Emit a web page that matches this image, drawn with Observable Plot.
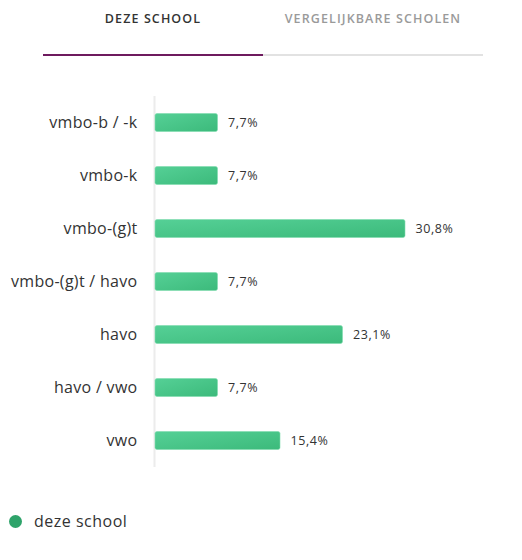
<!DOCTYPE html>
<html>
<head>
<meta charset="utf-8">
<script src="https://cdn.jsdelivr.net/npm/d3@7"></script>
<script src="https://cdn.jsdelivr.net/npm/@observablehq/plot@0.6"></script>
<style>
  body { margin: 0; background: #fff; font-family: "Open Sans", sans-serif; }
  #wrap { position: relative; width: 522px; height: 560px; overflow: hidden; }
  .tab { position: absolute; top: 10px; font-size: 12.5px; font-weight: 600; letter-spacing: 1.1px; }
  .tab1 { left: 43px; width: 220px; text-align: center; color: #333; }
  .tab2 { left: 263px; width: 220px; text-align: center; color: #9a9a9a; }
  .line1 { position: absolute; left: 43px; top: 54px; width: 220px; height: 2px; background: #6e1a5e; }
  .line2 { position: absolute; left: 263px; top: 54px; width: 220px; height: 2px; background: #e2e2e2; }
  #chart { position: absolute; left: 0; top: 80px; }
  .legend { position: absolute; left: 9px; top: 510px; display: flex; align-items: center; font-size: 16px; letter-spacing: 0.5px; color: #333; }
  .dot { width: 13px; height: 13px; border-radius: 50%; background: #2ea36a; margin-right: 12px; }
  #chart svg g[aria-label="y-axis tick label"] text { letter-spacing: 0.3px; }
  #chart svg g[aria-label="text"] text { letter-spacing: 0.6px; }
</style>
</head>
<body>
<div id="wrap">
  <div class="tab tab1">DEZE SCHOOL</div>
  <div class="tab tab2">VERGELIJKBARE SCHOLEN</div>
  <div class="line1"></div>
  <div class="line2"></div>
  <div id="chart"></div>
  <div class="legend"><div class="dot"></div><span>deze school</span></div>
</div>
<script>
const categories = ["vmbo-b / -k", "vmbo-k", "vmbo-(g)t", "vmbo-(g)t / havo", "havo", "havo / vwo", "vwo"];
const values = [7.7, 7.7, 30.8, 7.7, 23.1, 7.7, 15.4];
const seriesName = "deze school";

const data = categories.map((c, i) => ({category: c, value: values[i]}));
const fmt = v => v.toFixed(1).replace(".", ",") + "%";

const defs = () => {
  const ns = "http://www.w3.org/2000/svg";
  const d = document.createElementNS(ns, "defs");
  const g = document.createElementNS(ns, "linearGradient");
  g.setAttribute("id", "barGrad");
  g.setAttribute("x1", "0"); g.setAttribute("y1", "0");
  g.setAttribute("x2", "1"); g.setAttribute("y2", "1");
  [["0%", "#55d096"], ["100%", "#3cba7b"]].forEach(([o, c]) => {
    const s = document.createElementNS(ns, "stop");
    s.setAttribute("offset", o); s.setAttribute("stop-color", c);
    g.appendChild(s);
  });
  d.appendChild(g);
  return d;
};

const plot = Plot.plot({
  width: 522,
  height: 400,
  marginTop: 16,
  marginBottom: 13,
  marginLeft: 155,
  marginRight: 117,
  style: { fontFamily: "'Open Sans', sans-serif", background: "transparent" },
  x: { domain: [0, d3.max(values)], axis: null },
  y: { domain: categories, padding: 0, label: null },
  marks: [
    defs,
    Plot.ruleX([0], { stroke: "#ececec", strokeWidth: 2, dx: -1 }),
    Plot.barX(data, {
      x: "value", y: "category", fill: "url(#barGrad)",
      insetTop: 17.5, insetBottom: 17.5, rx: 2,
      stroke: "#7fdcae", strokeWidth: 0.6
    }),
    Plot.text(data, {
      x: "value", y: "category", text: d => fmt(d.value),
      dx: 10, textAnchor: "start", fontSize: 12.5, fontWeight: 500, fill: "#333"
    }),
    Plot.axisY({ tickSize: 0, tickPadding: 18, fontSize: 16, color: "#333", label: null })
  ]
});
document.getElementById("chart").appendChild(plot);
</script>
</body>
</html>
